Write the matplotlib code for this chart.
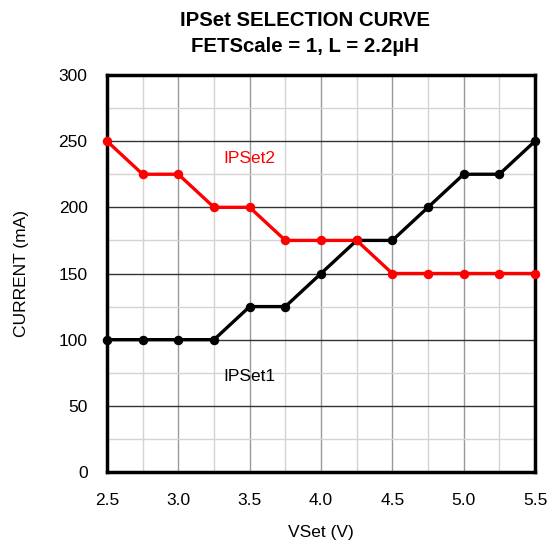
import matplotlib
matplotlib.use('Agg')
import matplotlib.pyplot as plt
from matplotlib.ticker import MultipleLocator

plt.rcParams['font.family'] = ['Liberation Sans', 'DejaVu Sans']

vset = [2.5, 2.75, 3.0, 3.25, 3.5, 3.75, 4.0, 4.25, 4.5, 4.75, 5.0, 5.25, 5.5]
ipset1 = [100, 100, 100, 100, 125, 125, 150, 175, 175, 200, 225, 225, 250]
ipset2 = [250, 225, 225, 200, 200, 175, 175, 175, 150, 150, 150, 150, 150]

fig = plt.figure(figsize=(5.48, 5.44), dpi=100)
ax = fig.add_axes([107 / 548, 1 - 472 / 544, 428 / 548, 397 / 544])

ax.set_xlim(2.5, 5.5)
ax.set_ylim(0, 300)
ax.xaxis.set_major_locator(MultipleLocator(0.5))
ax.xaxis.set_minor_locator(MultipleLocator(0.25))
ax.yaxis.set_major_locator(MultipleLocator(50))
ax.yaxis.set_minor_locator(MultipleLocator(25))
ax.xaxis.set_major_formatter(lambda v, p: f'{v:.1f}')

# grid: horizontal majors dark, vertical majors mid grey, minors light
ax.grid(which='major', axis='y', color='#333333', lw=1.0, zorder=0)
ax.grid(which='major', axis='x', color='#999999', lw=1.0, zorder=0)
ax.grid(which='minor', axis='both', color='#d4d4d4', lw=1.0, zorder=0)
ax.set_axisbelow(True)

ax.plot(vset, ipset1, color='black', lw=2.4, marker='o', ms=5.8,
        clip_on=False, zorder=3)
ax.plot(vset, ipset2, color='#ff0000', lw=2.4, marker='o', ms=5.8,
        clip_on=False, zorder=3)

ax.text(3.5, 237, 'IPSet2', color='#ff0000', fontsize=12.5,
        ha='center', va='center')
ax.text(3.5, 72, 'IPSet1', color='black', fontsize=12.5,
        ha='center', va='center')

for s in ax.spines.values():
    s.set_linewidth(2.5)
    s.set_color('black')
ax.tick_params(axis='y', which='both', length=0, labelsize=12.5, pad=14)
ax.tick_params(axis='x', which='both', length=0, labelsize=12.5, pad=15)

ax.set_xlabel('VSet (V)', fontsize=12.5, va='center')
ax.set_ylabel('CURRENT (mA)', fontsize=12.5, ha='center', va='center')
ax.xaxis.set_label_coords(0.5, -(532 - 472) / 397)
ax.yaxis.set_label_coords((22 - 107) / 428, 0.5)

fig.text(305 / 548, 1 - 20 / 544, 'IPSet SELECTION CURVE', fontsize=14.7,
         fontweight='bold', ha='center', va='center')
fig.text(305 / 548, 1 - 46 / 544, 'FETScale = 1, L = 2.2µH', fontsize=14.7,
         fontweight='bold', ha='center', va='center')

fig.savefig('out.png', dpi=100)
